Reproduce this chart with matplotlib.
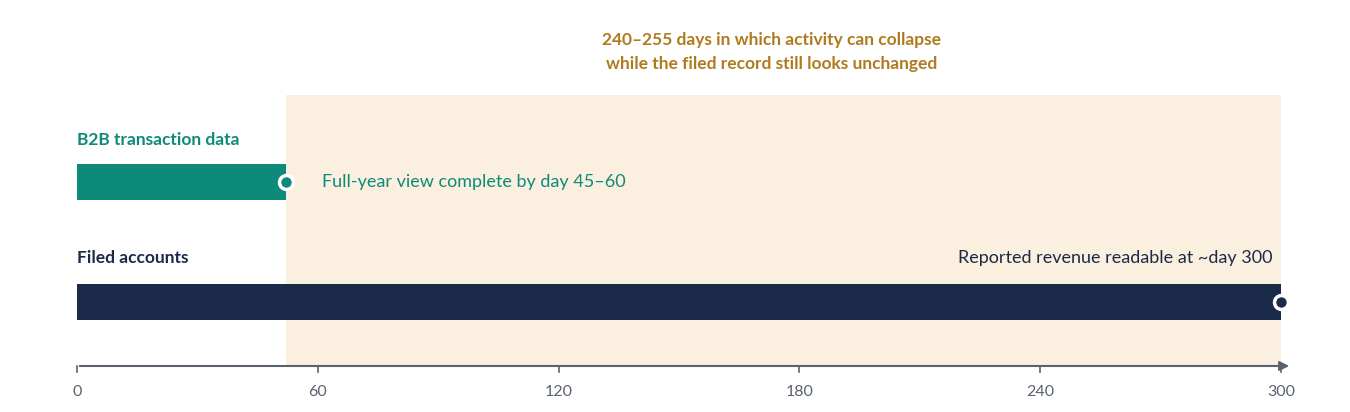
import matplotlib.pyplot as plt
from matplotlib.patches import Rectangle

plt.rcParams['font.family'] = ['Lato', 'DejaVu Sans']

rows = ["B2B transaction data", "Filed accounts"]
ends = [52, 300]
colors = ["#0e8a7a", "#1c2a4a"]
notes = ["Full-year view complete by day 45–60", "Reported revenue readable at ~day 300"]
ticks = [0, 60, 120, 180, 240, 300]
gap_title = "240–255 days in which activity can collapse\nwhile the filed record still looks unchanged"

W, H = 1350, 412
fig = plt.figure(figsize=(W / 100, H / 100), dpi=100)
ax = fig.add_axes([0, 0, 1, 1])
px = 300 / 1204
ax.set_xlim(-77 * px, 300 + (W - 1281) * px)
ax.set_ylim(H, 0)
ax.axis('off')

# shaded gap
ax.add_patch(Rectangle((ends[0], 95), ends[1] - ends[0], 271, color="#fbefdf", lw=0, zorder=0))
ax.text((ends[0] + ends[1]) / 2 - 3, 52, gap_title, ha='center', va='center',
        color="#b07a1e", fontsize=12.5, fontweight='bold', linespacing=1.6)

bar_y = [182, 302]
label_y = [140, 258]
for i in range(2):
    ax.add_patch(Rectangle((0, bar_y[i] - 18), ends[i], 36, color=colors[i], lw=0, zorder=2))
    ax.plot(ends[i], bar_y[i], 'o', ms=10, mfc=colors[i], mec='white', mew=2.5, zorder=3)
    ax.text(0, label_y[i], rows[i], ha='left', va='center', color=colors[i],
            fontsize=12.5, fontweight='bold')

ax.text(ends[0] + 9, bar_y[0], notes[0], ha='left', va='center', color=colors[0], fontsize=13)
ax.text(ends[1] - 2, label_y[1], notes[1], ha='right', va='center', color=colors[1], fontsize=13)

# axis
ax.annotate('', xy=(300 + 11 * px, 366), xytext=(0, 366),
            arrowprops=dict(arrowstyle='-|>', color="#5a6170", lw=1.5, mutation_scale=14))
for t in ticks:
    ax.plot([t, t], [366, 372], color="#5a6170", lw=1.2)
    ax.text(t, 392, str(t), ha='center', va='center', color="#5a6170", fontsize=11.5)

fig.savefig("out.png", dpi=100)
